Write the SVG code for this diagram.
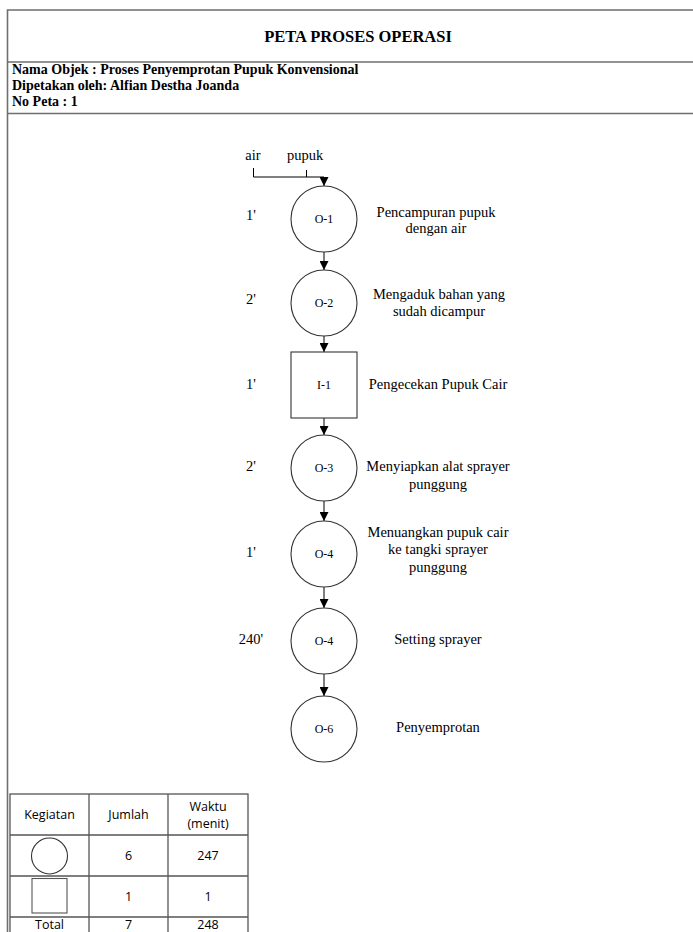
<svg xmlns="http://www.w3.org/2000/svg" width="693" height="932" viewBox="0 0 693 932">
<defs>
<marker id="arr" viewBox="0 0 10 10" refX="10" refY="5" markerWidth="9" markerHeight="9" markerUnits="userSpaceOnUse" orient="auto">
<path d="M0,0 L10,5 L0,10 z" fill="#000"/>
</marker>
<style>
.frame{fill:none;stroke:#6e6e6e;stroke-width:1.6}
.hdr{font-family:"Liberation Serif",serif;font-weight:bold;fill:#000}
.s{font-family:"Liberation Serif",serif;font-size:14.5px;fill:#000}
.lbl{font-family:"Liberation Serif",serif;font-size:12px;fill:#000}
.shape{fill:#fff;stroke:#333;stroke-width:1.1}
.con{fill:none;stroke:#000;stroke-width:1}
.tbl{fill:none;stroke:#555;stroke-width:1.3}
.tt{font-family:"Open Sans",sans-serif;font-size:12.5px;fill:#000}
</style>
</defs>
<rect width="693" height="932" fill="#fff"/>

<g id="frame">
<path class="frame" d="M7.5,932 V10 H693"/>
<line class="frame" x1="7.5" y1="62" x2="693" y2="62"/>
<line class="frame" x1="7.5" y1="113.5" x2="693" y2="113.5"/>
<text class="hdr" x="358" y="42" font-size="16.5" text-anchor="middle">PETA PROSES OPERASI</text>
<text class="hdr" x="12" y="74" font-size="14">Nama Objek : Proses Penyemprotan Pupuk Konvensional</text>
<text class="hdr" x="12" y="90" font-size="14">Dipetakan oleh: Alfian Destha Joanda</text>
<text class="hdr" x="12" y="106" font-size="14">No Peta : 1</text>
</g>

<g id="inputs">
<text class="s" x="253" y="160" text-anchor="middle">air</text>
<text class="s" x="305" y="160" text-anchor="middle">pupuk</text>
</g>

<g id="connectors">
<path class="con" d="M253.5,168 V177 H324 V186" marker-end="url(#arr)"/>
<line class="con" x1="306.5" y1="170" x2="306.5" y2="177"/>
<line class="con" x1="324" y1="252" x2="324" y2="270" marker-end="url(#arr)"/>
<line class="con" x1="324" y1="336" x2="324" y2="352" marker-end="url(#arr)"/>
<line class="con" x1="324" y1="418" x2="324" y2="435" marker-end="url(#arr)"/>
<line class="con" x1="324" y1="501" x2="324" y2="521" marker-end="url(#arr)"/>
<line class="con" x1="324" y1="587" x2="324" y2="608" marker-end="url(#arr)"/>
<line class="con" x1="324" y1="674" x2="324" y2="696" marker-end="url(#arr)"/>
</g>

<g id="O-1">
<circle class="shape" cx="324" cy="219" r="33"/>
<text class="lbl" x="324" y="223" text-anchor="middle">O-1</text>
<text class="s" x="251" y="220" text-anchor="middle">1'</text>
<text class="s" x="436" y="217" text-anchor="middle">Pencampuran pupuk</text>
<text class="s" x="436" y="233" text-anchor="middle">dengan air</text>
</g>

<g id="O-2">
<circle class="shape" cx="324" cy="303" r="33"/>
<text class="lbl" x="324" y="307" text-anchor="middle">O-2</text>
<text class="s" x="251" y="304" text-anchor="middle">2'</text>
<text class="s" x="439" y="299" text-anchor="middle">Mengaduk bahan yang</text>
<text class="s" x="439" y="316" text-anchor="middle">sudah dicampur</text>
</g>

<g id="I-1">
<rect class="shape" x="291" y="352" width="66" height="66"/>
<text class="lbl" x="324" y="389" text-anchor="middle">I-1</text>
<text class="s" x="251" y="389" text-anchor="middle">1'</text>
<text class="s" x="438" y="389" text-anchor="middle">Pengecekan Pupuk Cair</text>
</g>

<g id="O-3">
<circle class="shape" cx="324" cy="468" r="33"/>
<text class="lbl" x="324" y="472" text-anchor="middle">O-3</text>
<text class="s" x="251" y="471" text-anchor="middle">2'</text>
<text class="s" x="438" y="471" text-anchor="middle">Menyiapkan alat sprayer</text>
<text class="s" x="438" y="489" text-anchor="middle">punggung</text>
</g>

<g id="O-4">
<circle class="shape" cx="324" cy="554" r="33"/>
<text class="lbl" x="324" y="558" text-anchor="middle">O-4</text>
<text class="s" x="251" y="557" text-anchor="middle">1'</text>
<text class="s" x="438" y="537" text-anchor="middle">Menuangkan pupuk cair</text>
<text class="s" x="438" y="554" text-anchor="middle">ke tangki sprayer</text>
<text class="s" x="438" y="572" text-anchor="middle">punggung</text>
</g>

<g id="O-4b">
<circle class="shape" cx="324" cy="641" r="33"/>
<text class="lbl" x="324" y="645" text-anchor="middle">O-4</text>
<text class="s" x="251" y="644" text-anchor="middle">240'</text>
<text class="s" x="438" y="644" text-anchor="middle">Setting sprayer</text>
</g>

<g id="O-6">
<circle class="shape" cx="324" cy="729" r="33"/>
<text class="lbl" x="324" y="733" text-anchor="middle">O-6</text>
<text class="s" x="438" y="732" text-anchor="middle">Penyemprotan</text>
</g>

<g id="summary">
<rect class="tbl" x="10" y="794" width="238" height="160"/>
<line class="tbl" x1="89" y1="794" x2="89" y2="954"/>
<line class="tbl" x1="168" y1="794" x2="168" y2="954"/>
<line class="tbl" x1="10" y1="835" x2="248" y2="835"/>
<line class="tbl" x1="10" y1="876" x2="248" y2="876"/>
<line class="tbl" x1="10" y1="917" x2="248" y2="917"/>
<text class="tt" x="49.5" y="819" text-anchor="middle">Kegiatan</text>
<text class="tt" x="128.5" y="819" text-anchor="middle">Jumlah</text>
<text class="tt" x="208" y="811" text-anchor="middle">Waktu</text>
<text class="tt" x="208" y="828" text-anchor="middle">(menit)</text>
<circle fill="none" stroke="#333" stroke-width="1.1" cx="49.5" cy="856" r="18"/>
<text class="tt" x="128.5" y="860" text-anchor="middle">6</text>
<text class="tt" x="208" y="860" text-anchor="middle">247</text>
<rect fill="none" stroke="#555" stroke-width="1.1" x="32" y="878.5" width="35" height="34.5"/>
<text class="tt" x="128.5" y="901" text-anchor="middle">1</text>
<text class="tt" x="208" y="901" text-anchor="middle">1</text>
<text class="tt" x="49.5" y="928.5" text-anchor="middle">Total</text>
<text class="tt" x="128.5" y="928.5" text-anchor="middle">7</text>
<text class="tt" x="208" y="928.5" text-anchor="middle">248</text>
</g>
</svg>
